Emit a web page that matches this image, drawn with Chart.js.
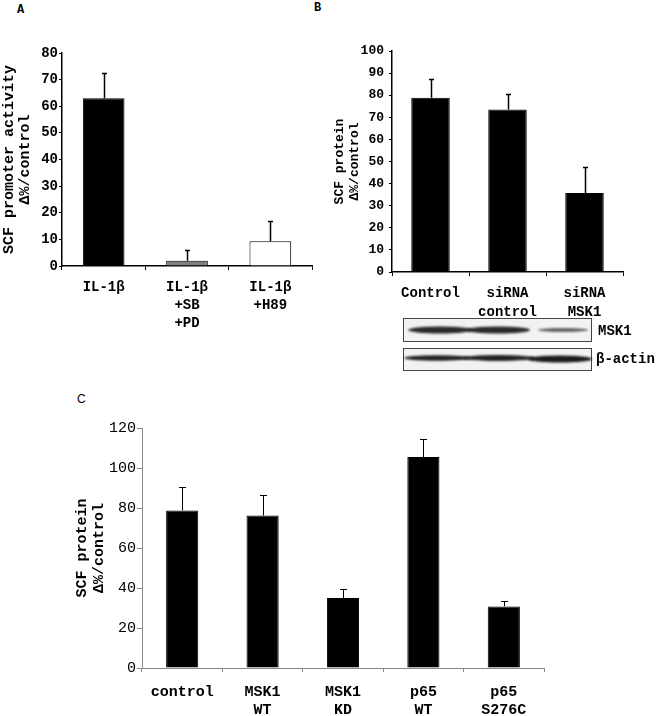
<!DOCTYPE html>
<html>
<head>
<meta charset="utf-8">
<script src="https://cdn.jsdelivr.net/npm/chart.js@4/dist/chart.umd.min.js"></script>
<style>
body { margin: 0; background: #fff; width: 661px; height: 716px; position: relative; overflow: hidden; font-family: "Liberation Mono", monospace; }
canvas, .lbl { position: absolute; }
.lbl { font-weight: bold; font-size: 14px; color: #000; line-height: 1; white-space: nowrap; }
</style>
</head>
<body>
<div class="lbl" style="left:17px;top:4px;font-size:12px">A</div>
<div class="lbl" style="left:314px;top:2px;font-size:12px">B</div>
<div class="lbl" style="left:77px;top:393px;font-size:12px;font-weight:normal;font-family:'Liberation Sans',sans-serif">C</div>

<canvas id="chartA" width="330" height="330" style="left:0;top:0"></canvas>
<canvas id="chartB" width="331" height="318" style="left:330px;top:0"></canvas>
<canvas id="chartC" width="661" height="336" style="left:0;top:380px"></canvas>
<canvas id="blot" width="200" height="60" style="left:400px;top:315px"></canvas>

<div class="lbl" style="left:598px;top:324px">MSK1</div>
<div class="lbl" style="left:596px;top:352px">β-actin</div>

<script>
// Panel A - SCF promoter activity
const aLabels = [['IL-1β'], ['IL-1β', '+SB', '+PD'], ['IL-1β', '+H89']];
const aValues = [63, 2, 9.3];
const aErrTop = [72.5, 6, 17];
const aColors = ['#000000', '#808080', '#ffffff'];

// Panel B - SCF protein with siRNA
const bLabels = [['Control'], ['siRNA', 'control'], ['siRNA', 'MSK1']];
const bValues = [78.8, 73.5, 35.8];
const bErrTop = [87.5, 80.5, 47.3];

// Panel C - SCF protein with constructs
const cLabels = [['control'], ['MSK1', 'WT'], ['MSK1', 'KD'], ['p65', 'WT'], ['p65', 'S276C']];
const cValues = [78.8, 76.2, 35, 105.5, 30.8];
const cErrTop = [90.3, 86.3, 39.3, 114.5, 33.3];

// upward error bars with a small cap
const errorBars = {
    id: 'errorBars',
    afterDatasetsDraw(chart, args, opts) {
        const ds = chart.getDatasetMeta(0);
        const y = chart.scales.y;
        const ctx = chart.ctx;
        ctx.save();
        ctx.strokeStyle = '#000';
        ctx.lineWidth = opts.width;
        ds.data.forEach((bar, i) => {
            const top = Math.round(y.getPixelForValue(opts.top[i])) + 0.5;
            const x = Math.round(bar.x) + 0.5;
            ctx.beginPath();
            ctx.moveTo(x, bar.y);
            ctx.lineTo(x, top);
            ctx.moveTo(x - opts.cap, top);
            ctx.lineTo(x + opts.cap, top);
            ctx.stroke();
        });
        ctx.restore();
    }
};

function barChart(id, labels, values, errTop, s) {
    return new Chart(document.getElementById(id), {
        type: 'bar',
        data: {
            labels,
            datasets: [{
                data: values,
                backgroundColor: s.colors,
                borderColor: '#000',
                borderWidth: 1,
                barPercentage: s.barPct,
                categoryPercentage: 1
            }]
        },
        options: {
            responsive: false,
            animation: false,
            layout: { padding: s.pad },
            plugins: {
                legend: { display: false },
                tooltip: { enabled: false },
                errorBars: { top: errTop, cap: s.cap, width: s.errWidth }
            },
            scales: {
                x: {
                    grid: { drawOnChartArea: false, tickLength: 4, color: s.axis, lineWidth: 1 },
                    border: { color: s.axis, width: s.axisWidth },
                    ticks: { color: '#000', font: s.xFont, padding: s.xPad, maxRotation: 0, autoSkip: false },
                    afterFit: sc => { sc.height = s.xH; }
                },
                y: {
                    min: 0, max: s.max,
                    grid: { drawOnChartArea: false, tickLength: s.yTick, color: s.axis },
                    border: { color: s.axis, width: s.axisWidth },
                    ticks: { stepSize: s.step, color: '#000', font: s.yFont, padding: s.yPad },
                    title: { display: true, text: s.title, color: '#000', font: s.tFont, padding: { top: s.tPad, bottom: 0 } },
                    afterFit: sc => { sc.width = s.yW; }
                }
            }
        },
        plugins: [errorBars]
    });
}

const mono = 'Liberation Mono';

barChart('chartA', aLabels, aValues, aErrTop, {
    colors: aColors, barPct: 0.5, cap: 2.5, errWidth: 1.5,
    pad: { top: 53, right: 18, left: 0, bottom: 0 },
    axis: '#000', axisWidth: 1.5,
    xFont: { family: mono, size: 14, weight: 'bold', lineHeight: 1.3 }, xPad: 8, xH: 64,
    max: 80, step: 10, yTick: 3, yPad: 1,
    yFont: { family: mono, size: 14, weight: 'bold' },
    title: ['SCF promoter activity', 'Δ%/control'],
    tFont: { family: mono, size: 15, weight: 'bold', lineHeight: 1.07 }, tPad: 1, yW: 62
});

barChart('chartB', bLabels, bValues, bErrTop, {
    colors: '#000', barPct: 0.5, cap: 2.5, errWidth: 1.5,
    pad: { top: 51, right: 38, left: 3, bottom: 0 },
    axis: '#000', axisWidth: 1.5,
    xFont: { family: mono, size: 14, weight: 'bold', lineHeight: 1.35 }, xPad: 8, xH: 46,
    max: 100, step: 10, yTick: 3, yPad: 5,
    yFont: { family: mono, size: 13, weight: 'bold' },
    title: ['SCF protein', 'Δ%/control'],
    tFont: { family: mono, size: 13, weight: 'bold', lineHeight: 1.1 }, tPad: 0, yW: 59
});

barChart('chartC', cLabels, cValues, cErrTop, {
    colors: '#000', barPct: 0.4, cap: 3.5, errWidth: 1,
    pad: { top: 48, right: 117, left: 74, bottom: 0 },
    axis: '#888', axisWidth: 1,
    xFont: { family: mono, size: 15, weight: 'bold', lineHeight: 1.2 }, xPad: 11, xH: 48,
    max: 120, step: 20, yTick: 5, yPad: 1,
    yFont: { family: mono, size: 15 },
    title: ['SCF protein', 'Δ%/control'],
    tFont: { family: mono, size: 15, weight: 'bold', lineHeight: 1.13 }, tPad: 0, yW: 68
});

// western blot strips under panel B
const blot = document.getElementById('blot').getContext('2d');
function strip(y, h) {
    blot.fillStyle = '#f2f2f2';
    blot.fillRect(3, y, 189, h);
    blot.strokeStyle = '#444';
    blot.lineWidth = 1;
    blot.strokeRect(3.5, y + 0.5, 188, h - 1);
}
function band(x0, x1, cy, hh, color) {
    blot.save();
    blot.filter = 'blur(1.2px)';
    blot.fillStyle = color;
    blot.beginPath();
    blot.ellipse((x0 + x1) / 2, cy, (x1 - x0) / 2, hh, 0, 0, Math.PI * 2);
    blot.fill();
    blot.restore();
}
strip(3, 24);
strip(33, 23);
band(8, 72, 15, 3.5, '#2a2a2a');
band(66, 130, 15, 3.6, '#2a2a2a');
band(138, 188, 15, 1.8, '#555');
band(4, 70, 43, 2.8, '#222');
band(62, 135, 43, 3, '#222');
band(128, 192, 44, 3.6, '#1a1a1a');
</script>
</body>
</html>
